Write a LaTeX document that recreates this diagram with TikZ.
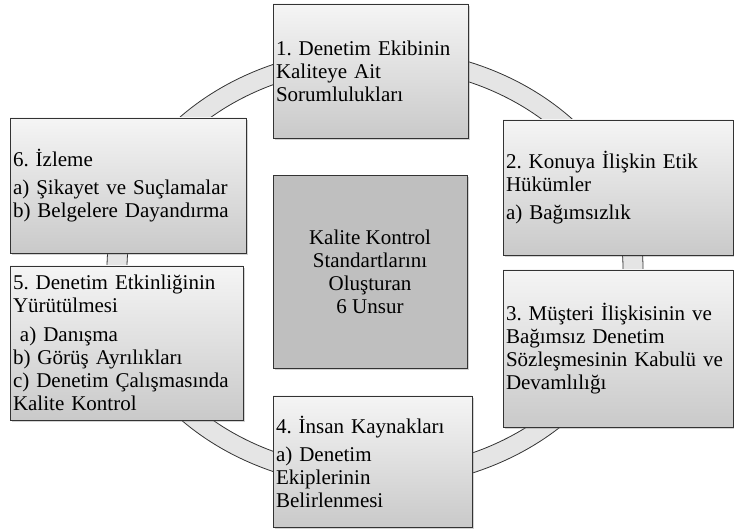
\documentclass[tikz,border=0pt]{standalone}
\usepackage{fontspec}
\setmainfont{Liberation Serif}
\usetikzlibrary{shadows}

\begin{document}
\frenchspacing
\begin{tikzpicture}[x=1pt, y=-1pt,
    unsur/.style ={rectangle, draw=black!80, thick, top color=gray!8, bottom color=gray!42,
      align=left, inner xsep=3pt, inner ysep=0pt, font=\fontsize{21}{23}\selectfont,
      drop shadow={shadow xshift=2pt, shadow yshift=-2pt, opacity=0.35}},
    merkez/.style ={rectangle, draw=black!80, thick, fill=gray!50, align=center,
      font=\fontsize{21}{23}\selectfont,
      drop shadow={shadow xshift=2pt, shadow yshift=-2pt, opacity=0.35}},
    halka/.style ={draw=black!80, thick, fill=gray!20, even odd rule}]
   \useasboundingbox (0,0) rectangle (734,529);
   \coordinate (O) at (375,268);

   % ring
   \path[halka] (O) ellipse [x radius=268, y radius=220]
                (O) ellipse [x radius=248, y radius=201];

   \node[merkez, minimum width=194pt, minimum height=193pt] (K) at (370,271.5)
     {Kalite Kontrol\\Standartlarını\\Oluşturan\\6 Unsur};

   \node[unsur, text width=189pt, minimum height=134pt] (U1) at (370.5,71)
     {1. Denetim Ekibinin\\Kaliteye Ait\\Sorumlulukları};
   \node[unsur, text width=224pt, minimum height=135pt] (U2) at (618,187.5)
     {2. Konuya İlişkin Etik\\Hükümler\\[5pt]a) Bağımsızlık};
   \node[unsur, text width=224pt, minimum height=157pt] (U3) at (618,348.5)
     {3. Müşteri İlişkisinin ve\\Bağımsız Denetim\\Sözleşmesinin Kabulü ve\\Devamlılığı};
   \node[unsur, text width=193pt, minimum height=131pt] (U4) at (372.5,461.5)
     {4. İnsan Kaynakları\\[5pt]a) Denetim\\Ekiplerinin\\Belirlenmesi};
   \node[unsur, text width=227pt, minimum height=154pt] (U5) at (126.5,343)
     {5. Denetim Etkinliğinin\\Yürütülmesi\\[6pt]\ a) Danışma\\b) Görüş Ayrılıkları\\c) Denetim Çalışmasında\\Kalite Kontrol};
   \node[unsur, text width=230pt, minimum height=135pt] (U6) at (128,185.5)
     {6. İzleme\\[5pt]a) Şikayet ve Suçlamalar\\b) Belgelere Dayandırma};
\end{tikzpicture}
\end{document}
